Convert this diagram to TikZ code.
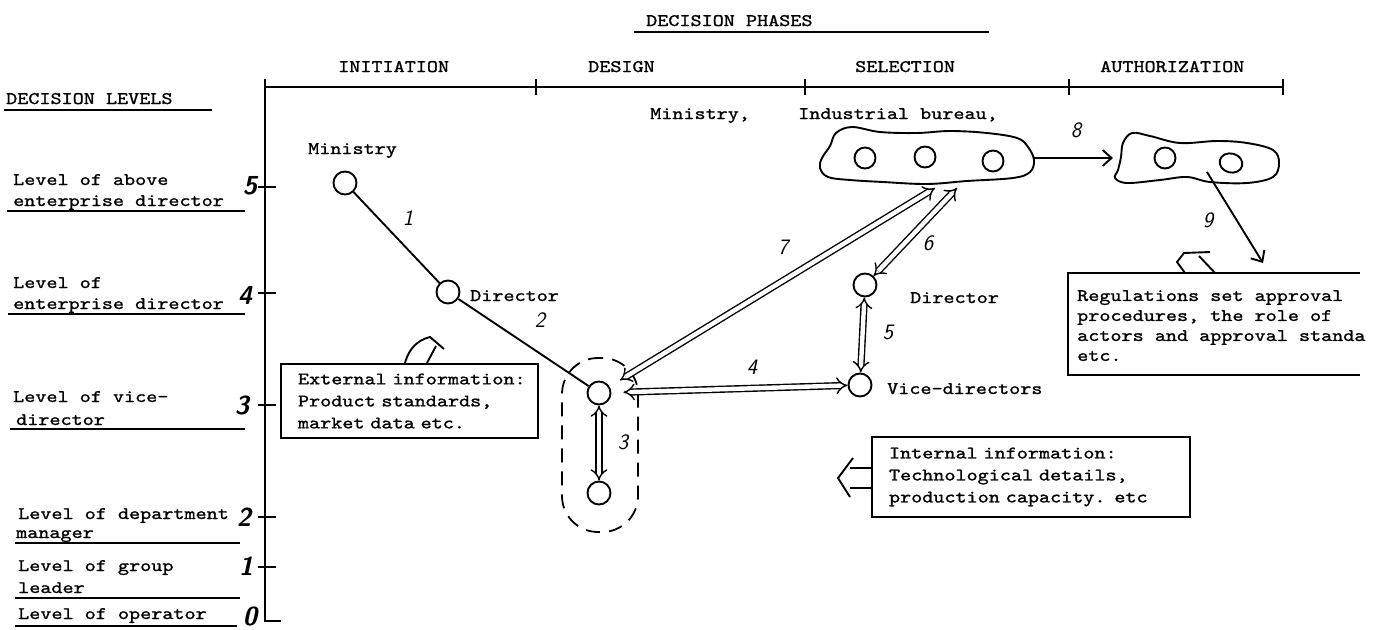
\documentclass[tikz,border=0pt]{standalone}
\usepackage{fontspec}
\setmonofont{lmmono10-regular.otf}[FakeStretch=1.2,FakeBold=1.2]
\usetikzlibrary{arrows.meta,shapes.geometric}

\tikzset{
  tw/.style={font=\ttfamily\fontsize{17.6}{22}\selectfont, inner sep=0pt, anchor=base west},
  hand/.style={font=\sffamily\itshape\fontsize{22}{22}\selectfont, inner sep=0pt},
  lvlnum/.style={font=\sffamily\bfseries\itshape\fontsize{26}{26}\selectfont, inner sep=0pt},
  axisline/.style={line width=2.6pt},
  rule/.style={line width=2.2pt},
  person/.style={circle, draw, line width=1.9pt, minimum size=23pt, inner sep=0pt},
  member/.style={circle, draw, line width=1.9pt, minimum size=21pt, inner sep=0pt},
  conn/.style={line width=1.9pt},
  dbl/.style={double, double distance=4.4pt, line width=1.4pt, {Implies[scale=1.6]}-{Implies[scale=1.6]}},
  single/.style={line width=1.9pt, -{Straight Barb[length=9pt,width=16pt,line width=1.9pt]}},
  infobox/.style={draw, line width=2.6pt, align=left, inner xsep=17pt, inner ysep=0pt,
    font=\ttfamily\fontsize{17.6}{22}\selectfont},
  cloud/.style={line width=1.9pt}
}

\begin{document}
\begin{tikzpicture}[x=1pt,y=-1pt]
\useasboundingbox[fill=white] (0,0) rectangle (1373,629);

% ---- headings
\node[tw] (phases) at (646,26) {DECISION PHASES};
\draw[rule] (634,32) -- (989,32);
\node[tw] (levels) at (6,104) {DECISION LEVELS};
\draw[rule] (4,110) -- (212,110);

% ---- phase axis
\draw[axisline] (264,87) -- (1283,87);
\foreach \tx in {536,805,1069,1283} \draw[axisline] (\tx,79) -- (\tx,95);
\node[tw] (ini) at (338,72) {INITIATION};
\node[tw] (des) at (588,72) {DESIGN};
\node[tw] (sel) at (855,72) {SELECTION};
\node[tw] (aut) at (1100,72) {AUTHORIZATION};

% ---- level axis
\draw[axisline] (265,79) -- (265,621) -- (281,621);
\foreach \ty in {187,293,405,517,567} \draw[axisline] (258,\ty) -- (276,\ty);

\node[tw] (l5a) at (13,185) {Level of above};
\node[tw] (l5b) at (13,206) {enterprise director};
\draw[rule] (7,211) -- (245,211);
\node[tw] (l4a) at (13,288) {Level of};
\node[tw] (l4b) at (13,309) {enterprise director};
\draw[rule] (8,314) -- (245,314);
\node[tw] (l3a) at (13,402) {Level of vice-};
\node[tw] (l3b) at (16,425) {director};
\draw[rule] (10,429) -- (245,429);
\node[tw] (l2a) at (18,519) {Level of department};
\node[tw] (l2b) at (16,538) {manager};
\draw[rule] (15,543) -- (240,543);
\node[tw] (l1a) at (18,571) {Level of group};
\node[tw] (l1b) at (18,593) {leader};
\draw[rule] (15,598) -- (240,598);
\node[tw] (l0a) at (18,619) {Level of operator};
\draw[rule] (15,626) -- (237,626);

\node[lvlnum] (n5) at (250,186) {5};
\node[lvlnum] (n4) at (245,295) {4};
\node[lvlnum] (n3) at (242,405) {3};
\node[lvlnum] (n2) at (244,517) {2};
\node[lvlnum] (n1) at (246,566) {1};
\node[lvlnum] (n0) at (250,616) {0};

% ---- actors
\node[person] (min1) at (345,183) {};
\node[tw] (min1lab) at (308,154) {Ministry};
\node[person] (dir1) at (448,292) {};
\node[tw] (dir1lab) at (470,301) {Director};
\node[person] (vd1) at (599,393) {};
\node[person] (dep1) at (599,493) {};
\node[draw, dashed, dash pattern=on 14pt off 9pt, line width=1.8pt, rounded corners=36pt,
      minimum width=76pt, minimum height=174pt] (grp) at (600,445) {};
\node[person] (dir2) at (865,285) {};
\node[tw] (dir2lab) at (910,303) {Director};
\node[person] (vd2) at (860,385) {};
\node[tw] (vd2lab) at (887,394) {Vice-directors};
\node[tw] (minlab) at (650,119) {Ministry,};
\node[tw] (indlab) at (798,119) {Industrial bureau,};

% ---- selection body (ministry / bureau)
\draw[cloud] plot[smooth cycle, tension=0.6] coordinates {
  (852,127) (836,133) (830,146) (822,158) (820,168) (828,177) (850,180) (883,182)
  (927,184) (967,181) (1013,178) (1030,172) (1034,160) (1028,147) (1017,138)
  (987,133) (950,131) (917,133) (880,132)};
\node[member] (c1a) at (865,158) {};
\node[member] (c1b) at (925,157) {};
\node[member] (c1c) at (993,161) {};
\coordinate (cl1e) at (1034,158);
\coordinate (cl1s7) at (935,188);
\coordinate (cl1s6) at (957,188);

% ---- authorization body
\draw[cloud] plot[smooth cycle, tension=0.6] coordinates {
  (1132,133) (1123,143) (1121,157) (1118,170) (1115,178) (1127,183) (1160,180)
  (1187,177) (1210,182) (1247,183) (1273,177) (1279,163) (1273,150) (1247,143)
  (1217,141) (1180,143) (1150,136)};
\node[member] (c2a) at (1165,158) {};
\node[draw, line width=1.9pt, inner sep=0pt, ellipse, minimum width=23pt, minimum height=19pt,
      rotate=-15] (c2b) at (1231,163) {};
\coordinate (cl2w) at (1113,158);
\coordinate (cl2s) at (1207,172);

% ---- information flows
\draw[conn] (min1) -- (dir1);
\draw[conn] (dir1) -- (vd1);
\draw[dbl] (vd1) -- (dep1);
\draw[dbl, shorten <=12pt] (vd1) -- (vd2);
\draw[dbl, shorten <=12pt] (vd1) -- (cl1s7);
\draw[dbl] (dir2) -- (cl1s6);
\draw[dbl] (dir2) -- (vd2);
\draw[single] (cl1e) -- (cl2w);
\coordinate (regtop) at (1263,263);
\draw[single] (cl2s) -- (regtop);

\node[hand] (f1) at (408,218) {1};
\node[hand] (f2) at (540,320) {2};
\node[hand] (f3) at (623,442) {3};
\node[hand] (f4) at (752,367) {4};
\node[hand] (f5) at (888,332) {5};
\node[hand] (f6) at (928,243) {6};
\node[hand] (f7) at (783,247) {7};
\node[hand] (f8) at (1076,130) {8};
\node[hand] (f9) at (1208,220) {9};

% ---- information boxes
\node[infobox, text width=223pt, minimum width=257pt, minimum height=74pt] (ext) at (409.5,401)
  {External~information:\\Product standards,\\market data etc.};
\draw[conn] (405,363) .. controls (409,348) and (418,340) .. (430,337) -- (444,349);
\draw[conn] (427,363) -- (436,346);

\node[infobox, text width=284pt, minimum width=318pt, minimum height=80pt] (int) at (1031,477)
  {Internal information:\\Technological details,\\production capacity. etc};
\draw[conn] (int.west |- 0,468) -- (850,468);
\draw[conn] (int.west |- 0,488) -- (850,488);
\draw[conn] (853,458) -- (838,478) -- (850,497);

\draw[line width=2.6pt] (1360,273) -- (1068,273) -- (1068,375) -- (1360,375);
\node[tw, align=left, anchor=north west, font=\ttfamily\fontsize{17.6}{20}\selectfont] (reg) at (1077,290)
  {Regulations set approval\\procedures, the role of\\actors and approval standa\\etc.};
\draw[conn] (1185,273) -- (1177,262) -- (1184,253) -- (1210,252);
\draw[conn] (1199,256) -- (1215,273);

\end{tikzpicture}
\end{document}
